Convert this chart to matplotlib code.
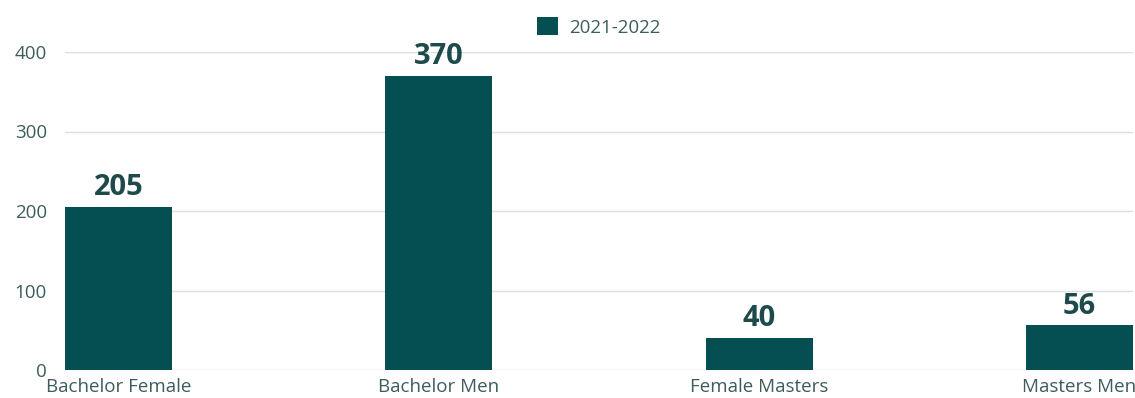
import matplotlib.pyplot as plt
import numpy as np

categories = ["Bachelor Female", "Bachelor Men", "Female Masters", "Masters Men"]
counts = [205, 370, 40, 56]
series_name = "2021-2022"

bar_color = "#054e51"
text_color = "#3d5c5c"
label_color = "#1e4a4b"

plt.rcParams['font.family'] = ['Open Sans', 'DejaVu Sans']

fig = plt.figure(figsize=(11.35, 3.98), dpi=100)
ax = fig.add_axes([65 / 1135, 1 - 370 / 398, (1133 - 65) / 1135, (370 - 52) / 398])

x = np.arange(len(categories))
bars = ax.bar(x, counts, width=0.334, color=bar_color, label=series_name, zorder=3)

for rect, v in zip(bars, counts):
    ax.text(rect.get_x() + rect.get_width() / 2, v + 6, str(v),
            ha="center", va="bottom", fontsize=21, fontweight="bold",
            color=label_color, clip_on=False)

ax.set_xlim(-0.167, 3.167)
ax.set_ylim(0, 400)
ax.set_yticks([0, 100, 200, 300, 400])
ax.set_xticks(x)
ax.set_xticklabels(categories)
ax.tick_params(axis="both", length=0, labelsize=13.5, labelcolor=text_color)
ax.tick_params(axis="y", pad=13)
ax.tick_params(axis="x", pad=6)
ax.grid(axis="y", color="#dddddd", linewidth=1, zorder=0)
for s in ax.spines.values():
    s.set_visible(False)

ax.legend(loc="center", bbox_to_anchor=(0.5, 1 + 25 / 318), frameon=False,
          fontsize=13.5, labelcolor=text_color, handlelength=1.1, handleheight=1.1,
          handletextpad=0.6)

fig.savefig("out.png", dpi=100)
